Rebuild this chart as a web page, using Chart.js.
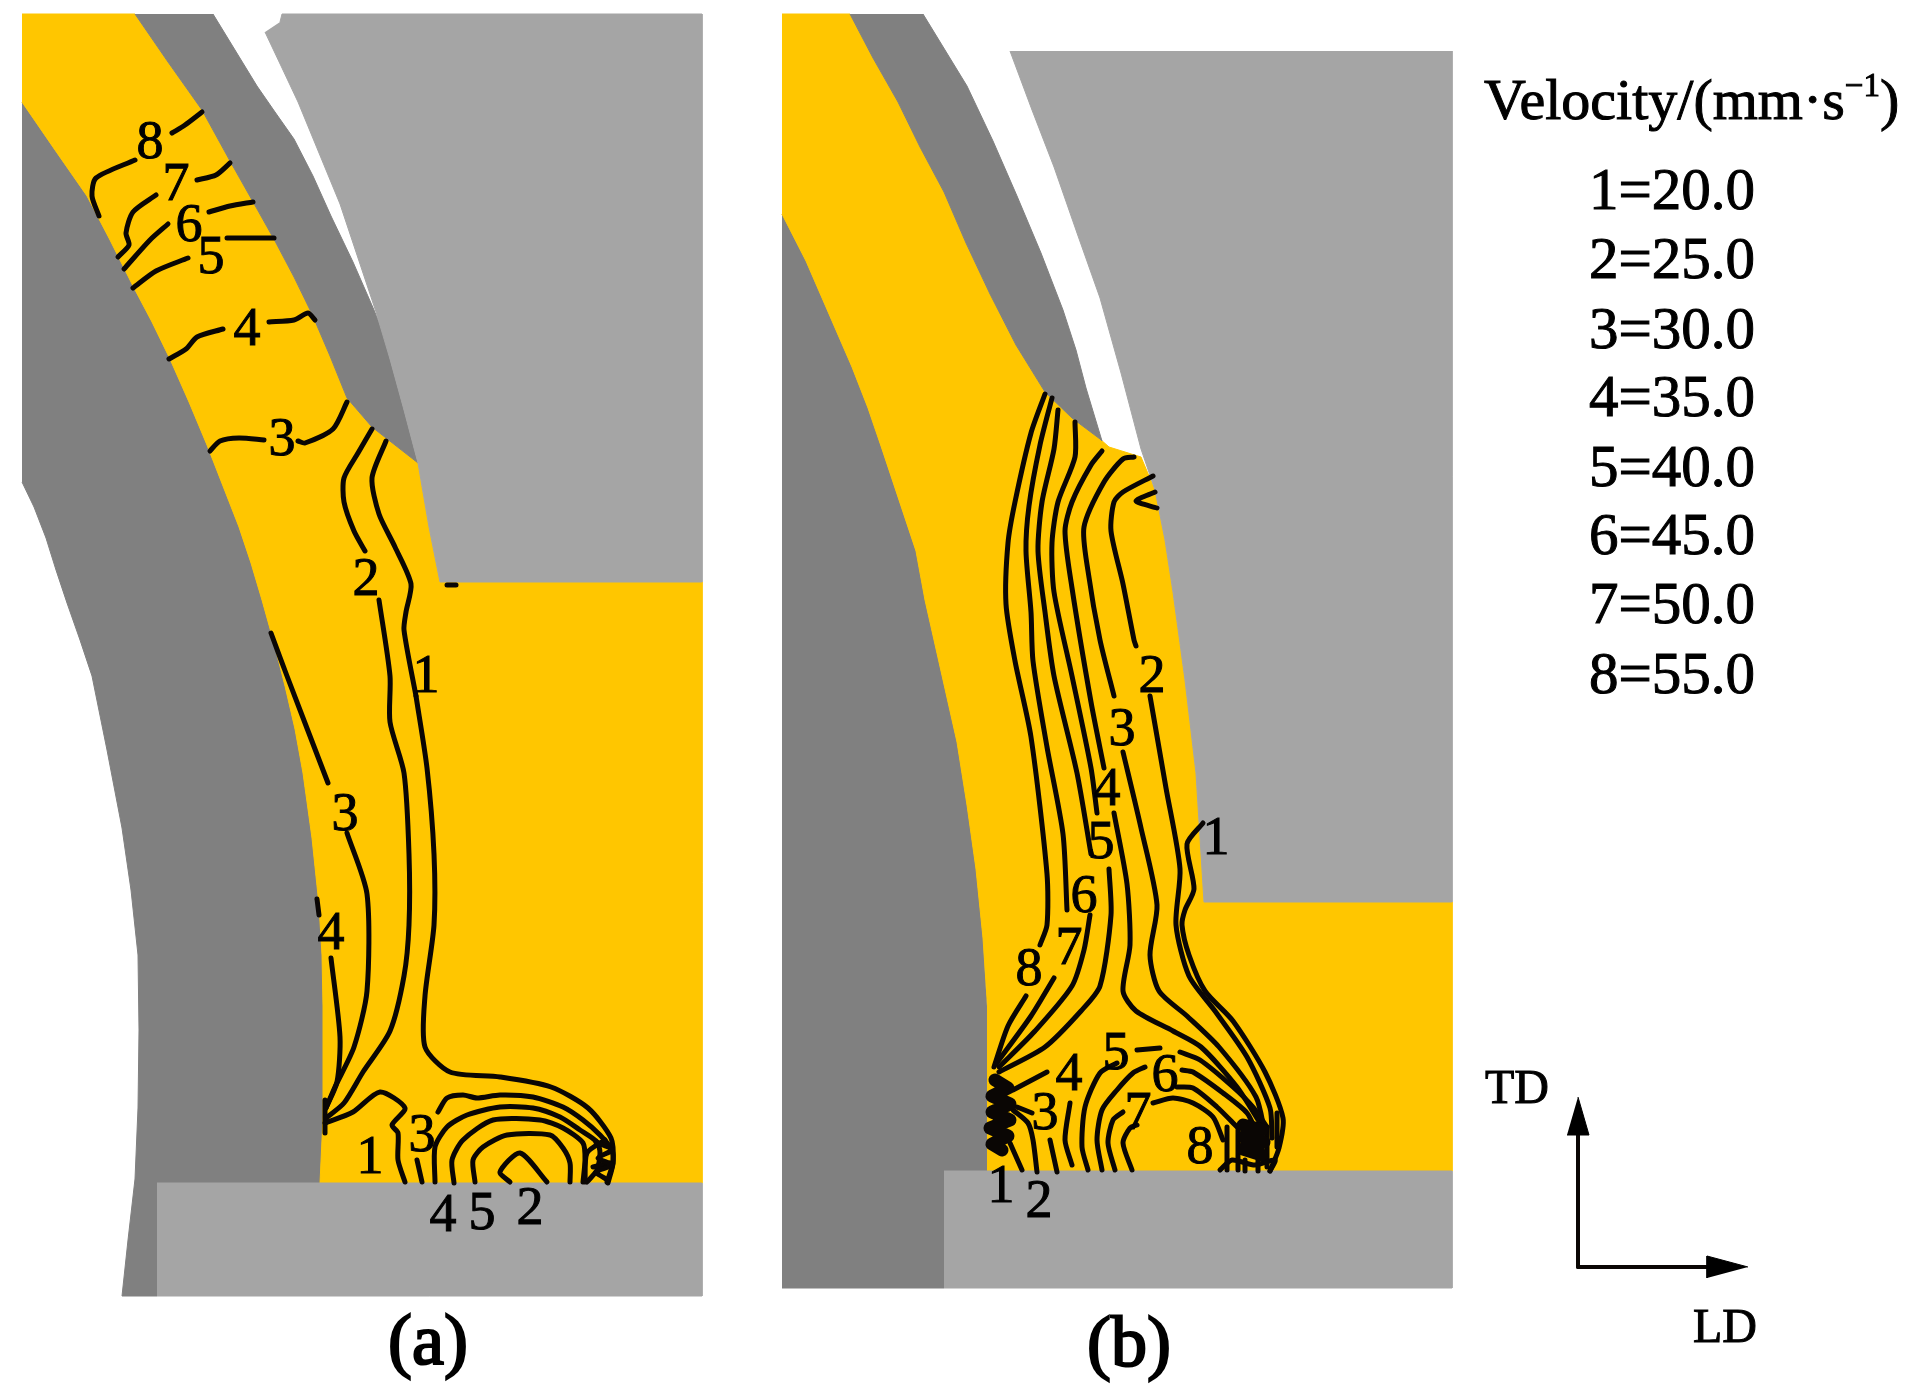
<!DOCTYPE html>
<html>
<head>
<meta charset="utf-8">
<title>Velocity contours</title>
<script src="https://cdn.jsdelivr.net/npm/chart.js@4"></script>
<style>
  html, body { margin: 0; padding: 0; background: #fff; }
  #wrap { width: 1914px; height: 1396px; }
  canvas { display: block; filter: blur(0.7px); }
</style>
</head>
<body>
<div id="wrap"><canvas id="chart" width="1914" height="1396"></canvas></div>
<script>
// all values are in figure units, x 0-1914 left to right, y 0-1396 top to bottom

// panel (a) shared edges
const aInner = [[22,102],[55,150],[87,196],[110,240],[133,286],[152,322],[170,359],[189,402],[207,445],[223,486],[239,527],[251,563],[262,600],[274,643],[285,686],[295,729],[303,773],[312,838],[319,905],[322,955],[323,1006],[323,1118],[320,1183]];
const aOuter = [[22,482],[34,507],[46,538],[56,570],[67,603],[80,640],[92,676],[107,750],[122,828],[131,890],[138,955],[139,1030],[138,1108],[135,1179],[128,1240],[122,1296]];
const aUpper = [[135,14],[168,62],[202,110],[230,161],[252,200],[275,241],[294,277],[312,314],[330,356],[347,398],[372,427],[418,463]];
const aRollEdge = [[213,14],[235,50],[257,86],[275,112],[294,139],[313,176],[331,216],[353,262],[374,310],[384,335],[390,359],[404,410],[418,463]];
const aDieEdge = [[265,32],[282,68],[298,102],[319,153],[340,204],[358,258],[376,312],[390,359],[404,410],[418,463],[429,527],[440,582]];

// panel (a) regions
const aBand = [...aInner, [157,1183], [157,1296], ...aOuter.slice().reverse()];
const aFlow = [[22,14], ...aUpper, [429,527],[440,582],[702,582],[702,1183], ...aInner.slice().reverse()];
const aRoll = [...aRollEdge, ...aUpper.slice().reverse()];
const aDie = [[280,22],[282,14],[702,14],[702,582], ...aDieEdge.slice().reverse()];
const aBase = [[157,1183],[702,1183],[702,1296],[157,1296]];

// panel (a) contour lines
const a8r = [[172,133],[185,125],[202,112]];
const a8l = [[135,160],[96,178],[92,196],[99,216]];
const a7r = [[197,180],[216,175],[230,163]];
const a7l = [[156,195],[133,212],[126,233],[129,245],[118,257]];
const a6r = [[209,212],[230,206],[253,202]];
const a6l = [[168,224],[150,240],[124,269]];
const a5r = [[227,238],[274,238]];
const a5l = [[188,258],[156,271],[133,288]];
const a4r = [[269,322],[294,320],[308,313],[315,320]];
const a4l = [[223,329],[197,337],[186,349],[169,359]];
const a3r = [[298,441],[305,443],[333,429],[347,402]];
const a3l = [[264,440],[239,438],[220,441],[210,451]];
const a2u = [[372,429],[358,453],[344,478],[344,502],[354,531],[365,551]];
const a2d = [[379,600],[390,676],[390,722],[404,773],[409,854],[409,925],[404,976],[390,1031],[363,1072],[344,1103],[326,1118]];
const a1u = [[386,441],[372,478],[379,514],[395,547],[411,584],[406,612],[404,630],[416,696]];
const a1d = [[416,696],[427,768],[434,854],[434,925],[425,996],[425,1047],[450,1072],[500,1077],[551,1087],[588,1108],[611,1138],[613,1163],[608,1183]];
const a3u = [[271,633],[287,676],[328,783]];
const a3d = [[347,833],[367,894],[367,991],[354,1047],[335,1087],[326,1108]];
const a4u = [[317,899],[319,915]];
const a4d = [[331,958],[340,1037],[337,1082],[326,1108]];
const aBump = [[325,1123],[353,1112],[380,1092],[405,1108],[392,1125],[398,1133],[398,1160],[405,1182]];
const aStub = [[417,1160],[422,1182]];
const aArc1 = [[438,1112],[447,1098],[463,1095],[477,1098],[500,1095],[533,1097],[563,1107],[583,1120],[600,1135],[612,1150],[613,1163],[607,1182]];
const aArc2 = [[435,1182],[435,1147],[447,1127],[467,1115],[500,1107],[533,1108],[560,1117],[580,1130],[597,1142],[600,1153],[597,1170],[587,1182]];
const aArc3 = [[454,1183],[452,1160],[463,1140],[493,1120],[540,1120],[563,1128],[583,1143],[585,1160],[583,1182]];
const aArc4 = [[475,1182],[473,1160],[483,1147],[507,1135],[550,1135],[563,1148],[570,1163],[570,1182]];
const aDiamond = [[510,1182],[500,1172],[520,1153],[547,1182]];
const aKnot1 = [[585,1182],[587,1153],[605,1140]];
const aKnot2 = [[593,1167],[610,1163]];
const aKnot3 = [[596,1142],[612,1150],[598,1158],[612,1165],[596,1172],[608,1180]];
const aEdge = [[325,1100],[325,1133]];
const aCorner = [[447,585],[456,585]];

// panel (b) shared edges
const bInner = [[782,214],[806,261],[829,314],[852,367],[868,408],[882,449],[899,500],[916,551],[925,600],[941,671],[957,742],[967,805],[976,869],[983,938],[987,1006],[988,1108],[987,1171]];
const bUpper = [[850,14],[873,58],[898,102],[920,147],[944,192],[966,243],[990,294],[1016,345],[1045,392],[1072,418],[1100,439]];
const bRollEdge = [[923,14],[945,50],[967,86],[993,141],[1017,196],[1041,253],[1063,310],[1076,350],[1086,388],[1102,441]];
const bDieEdge = [[1010,51],[1032,110],[1054,167],[1077,233],[1100,298],[1121,373],[1141,449],[1155,490],[1165,540],[1173,592],[1185,680],[1196,773],[1204,902]];

// panel (b) regions
const bBand = [...bInner, [944,1171],[944,1288],[782,1288]];
const bFlow = [[782,14], ...bUpper, [1109,447],[1141,457],[1155,490],[1165,540],[1173,592],[1185,680],[1196,773],[1204,902],[1452,902],[1452,1171], ...bInner.slice().reverse()];
const bRoll = [...bRollEdge, ...bUpper.slice().reverse()];
const bDie = [[1452,51],[1452,902], ...bDieEdge.slice().reverse()];
const bBase = [[944,1171],[1452,1171],[1452,1288],[944,1288]];

// panel (b) contour lines
const b8u = [[1045,394],[1031,433],[1015,502],[1008,543],[1006,604],[1015,661],[1031,737],[1047,874],[1047,925],[1040,945]];
const b8d = [[1026,996],[1008,1026],[994,1067]];
const b7u = [[1052,398],[1040,445],[1029,506],[1026,551],[1031,612],[1033,661],[1047,747],[1063,834],[1067,910]];
const b7d = [[1054,978],[1031,1016],[996,1064]];
const b6u = [[1058,410],[1054,449],[1042,502],[1038,551],[1045,612],[1054,676],[1077,773],[1091,854]];
const b6d = [[1090,915],[1084,950],[1072,986],[1035,1031],[999,1067]];
const b5u = [[1075,422],[1075,457],[1058,502],[1052,543],[1054,592],[1072,676],[1091,768],[1097,813]];
const b5d = [[1109,869],[1111,915],[1100,986],[1081,1011],[1045,1047],[999,1072]];
const b4u = [[1102,451],[1091,465],[1072,502],[1065,531],[1072,588],[1091,702],[1104,768]];
const b4d = [[1114,813],[1127,884],[1130,945],[1123,991],[1136,1011],[1173,1031],[1201,1047],[1237,1087],[1260,1123]];
const b3u = [[1134,457],[1123,459],[1104,482],[1084,527],[1088,571],[1100,640],[1114,696]];
const b3d = [[1123,752],[1141,828],[1157,905],[1150,955],[1159,991],[1187,1016],[1219,1047],[1256,1097],[1265,1133]];
const b2u = [[1153,476],[1123,492],[1114,502],[1111,531],[1123,584],[1134,640],[1136,646]];
const b2d = [[1150,696],[1166,788],[1180,869],[1176,925],[1189,976],[1215,1011],[1247,1057],[1270,1108],[1272,1138]];
const b1 = [[1203,823],[1187,844],[1194,889],[1185,910],[1182,925],[1189,955],[1205,991],[1233,1021],[1265,1072],[1283,1118],[1279,1148],[1270,1171]];
const bArrow = [[1155,492],[1136,501],[1157,508]];
const bArcAl = [[1088,1170],[1082,1147],[1085,1107],[1100,1073],[1117,1063]];
const bArcAr = [[1137,1050],[1160,1048]];
const bArcAe = [[1180,1052],[1200,1060],[1233,1087],[1253,1107],[1267,1127]];
const bArcBl = [[1102,1170],[1097,1140],[1102,1110],[1117,1090],[1133,1073],[1145,1067]];
const bArcBr = [[1182,1070],[1193,1072],[1223,1093],[1247,1113],[1257,1133]];
const bArcCl = [[1115,1170],[1108,1143],[1113,1120],[1123,1112]];
const bArcCr = [[1177,1087],[1193,1088],[1217,1107],[1237,1127]];
const bArcDl = [[1132,1170],[1123,1143],[1130,1128],[1137,1125]];
const bArcDr = [[1153,1103],[1173,1098],[1193,1103],[1213,1117],[1223,1140]];
const bLow1 = [[1057,1172],[1050,1140]];
const bLow2 = [[1072,1165],[1065,1140],[1070,1103]];
const bLow3 = [[1022,1170],[1010,1143]];
const bLow4 = [[1037,1172],[1033,1140],[1028,1123],[1013,1110]];
const bLow5 = [[1032,1113],[1017,1107]];
const bLow6 = [[1047,1072],[1013,1090]];
const bHatch1 = [[1220,1170],[1232,1160],[1255,1165],[1275,1160],[1270,1171]];
const bHatch2 = [[1227,1127],[1227,1170]];
const bHatch3 = [[1238,1130],[1238,1170]];
const bHatch4 = [[1267,1127],[1267,1167]];
const bHatch5 = [[1277,1113],[1277,1147]];
const bHatch6 = [[1245,1160],[1245,1171]];
const bHatch7 = [[1258,1160],[1258,1171]];

// the two dense knots where the lines pile up
const bKnotLeft = [[995,1080],[1008,1088],[992,1096],[1010,1104],[992,1112],[1010,1120],[990,1128],[1008,1136],[992,1144],[1002,1150]];
const bKnotRight = [[1243,1125],[1262,1130],[1243,1137],[1264,1142],[1243,1149],[1262,1155]];

// TD / LD direction arrows
const axisTD = [[1578,1267],[1578,1130]];
const axisLD = [[1578,1267],[1712,1267]];
const headTD = [[1578,1097],[1589,1135],[1567,1135]];
const headLD = [[1748,1267],[1707,1256],[1707,1278]];

// contour number labels
const labelTextA = ["8","7","6","5","4","3","2","1","3","4","1","3","4","5","2"];
const labelXA = [150,176,189,211,247,282,366,426,345,331,370,422,443,482,530];
const labelYA = [140,182,223,255,327,437,577,674,812,931,1155,1133,1213,1211,1206];
const labelTextB = ["2","3","4","5","6","7","8","1","5","6","4","3","7","8","1","2"];
const labelXB = [1152,1122,1107,1101,1084,1069,1029,1216,1116,1165,1069,1045,1138,1200,1001,1039];
const labelYB = [674,727,787,840,894,946,967,836,1051,1073,1072,1111,1111,1145,1184,1199];

// legend
const legendTitle = "Velocity/(mm·s";
const legendPower = "−1";
const legendKeys = ["1=20.0","2=25.0","3=30.0","4=35.0","5=40.0","6=45.0","7=50.0","8=55.0"];
const legendY = [209,278,348,416,486,554,623,693];

const YELLOW = "#ffc600";
const DARK = "#808080";
const LIGHT = "#a5a5a5";
const INK = "#0a0604";
const SERIF = '"Liberation Serif", serif';

const toPoints = (arr) => arr.map((p) => ({ x: p[0], y: p[1] }));

function region(arr, color) {
  return {
    data: toPoints(arr),
    showLine: true,
    fill: "shape",
    backgroundColor: color,
    borderColor: color,
    borderWidth: 1,
    pointRadius: 0,
    tension: 0,
  };
}

function contour(arr, width = 5, tension = 0.25) {
  return {
    data: toPoints(arr),
    showLine: true,
    fill: false,
    borderColor: INK,
    borderWidth: width,
    borderCapStyle: "round",
    borderJoinStyle: "round",
    pointRadius: 0,
    tension,
  };
}

const regions = [
  region(aBand, DARK), region(aFlow, YELLOW), region(aRoll, DARK), region(aDie, LIGHT), region(aBase, LIGHT),
  region(bBand, DARK), region(bFlow, YELLOW), region(bRoll, DARK), region(bDie, LIGHT), region(bBase, LIGHT),
];

const thinLines = [
  a8r, a8l, a7r, a7l, a6r, a6l, a5r, a5l, a4r, a4l, a3r, a3l, a2u, a2d, a1u, a1d, a3u, a3d, a4u, a4d,
  aBump, aStub, aArc1, aArc2, aArc3, aArc4, aDiamond, aKnot1, aKnot2, aKnot3, aEdge, aCorner,
  b8u, b8d, b7u, b7d, b6u, b6d, b5u, b5d, b4u, b4d, b3u, b3d, b2u, b2d, b1, bArrow,
  bArcAl, bArcAr, bArcAe, bArcBl, bArcBr, bArcCl, bArcCr, bArcDl, bArcDr,
  bLow1, bLow2, bLow3, bLow4, bLow5, bLow6,
  bHatch1, bHatch2, bHatch3, bHatch4, bHatch5, bHatch6, bHatch7,
];

const allSets = [
  ...regions,
  ...thinLines.map((l) => contour(l)),
  contour(bKnotLeft, 13, 0),
  contour(bKnotRight, 13, 0),
  contour(axisTD, 4, 0),
  contour(axisLD, 4, 0),
  region(headTD, "#000"),
  region(headLD, "#000"),
];
// chart.js paints lowest order last, so later sets end up on top
allSets.forEach((d, i) => { d.order = -i; });

const textPlugin = {
  id: "figureText",
  afterDatasetsDraw(chart) {
    const { ctx, scales: { x, y } } = chart;
    const put = (text, vx, vy, size, align = "left", heavy = 1) => {
      ctx.font = `${size}px ${SERIF}`;
      ctx.textAlign = align;
      ctx.textBaseline = "alphabetic";
      ctx.lineWidth = heavy;
      const px = x.getPixelForValue(vx);
      const py = y.getPixelForValue(vy);
      ctx.fillText(text, px, py);
      ctx.strokeText(text, px, py);
    };
    ctx.save();
    ctx.fillStyle = "#000";
    ctx.strokeStyle = "#000";

    // digit height is about 0.676em, labels are read at their centre
    const digit = 54;
    labelTextA.forEach((t, i) => put(t, labelXA[i], labelYA[i] + digit * 0.338, digit, "center"));
    labelTextB.forEach((t, i) => put(t, labelXB[i], labelYB[i] + digit * 0.338, digit, "center"));

    // legend title with raised power
    put(legendTitle, 1484, 119, 58);
    const w1 = ctx.measureText(legendTitle).width;
    put(legendPower, 1484 + w1, 96, 33);
    const w2 = ctx.measureText(legendPower).width;
    put(")", 1484 + w1 + w2, 119, 58);

    legendKeys.forEach((t, i) => put(t, 1755, legendY[i], 59, "right"));

    put("TD", 1485, 1103, 48);
    put("LD", 1693, 1342, 48);
    put("(a)", 428, 1364, 72, "center", 2.2);
    put("(b)", 1129, 1366, 72, "center", 2.2);
    ctx.restore();
  },
};

new Chart(document.getElementById("chart"), {
  type: "scatter",
  data: { datasets: allSets },
  options: {
    responsive: false,
    animation: false,
    devicePixelRatio: 1,
    layout: { padding: 0 },
    scales: {
      x: { type: "linear", min: 0, max: 1914, display: false },
      y: { type: "linear", min: 0, max: 1396, reverse: true, display: false },
    },
    plugins: { legend: { display: false }, tooltip: { enabled: false } },
  },
  plugins: [textPlugin],
});
</script>
</body>
</html>
